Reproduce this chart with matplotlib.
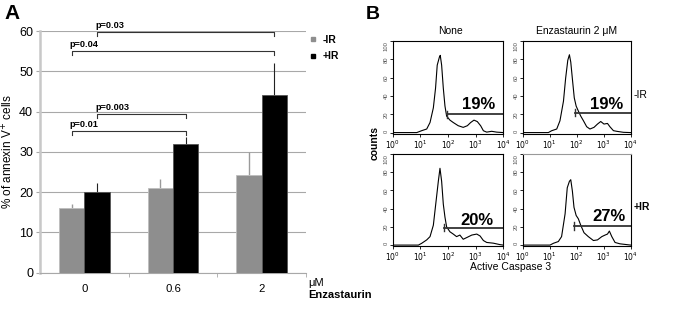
import numpy as np
import matplotlib
matplotlib.use('Agg')
import matplotlib.pyplot as plt
from matplotlib.lines import Line2D
from matplotlib.ticker import FixedLocator, LogLocator, NullFormatter

plt.rcParams['font.family'] = ['Liberation Sans', 'DejaVu Sans']

# ---------------- Panel A data ----------------
doses = ['0', '0.6', '2']
minus_ir = [16.0, 21.0, 24.3]
plus_ir = [20.0, 32.0, 44.0]
minus_ir_err = [1.1, 2.3, 5.7]
plus_ir_err = [2.3, 1.6, 8.0]
series_labels = ['-IR', '+IR']

p_labels = ['p=0.01', 'p=0.003', 'p=0.04', 'p=0.03']
p_heights = [35.1, 39.4, 55.0, 59.7]
p_from = [(0, 0), (0, 1), (0, 0), (0, 1)]   # (group, series)
p_to = [(1, 1), (1, 1), (2, 1), (2, 1)]

# ---------------- Panel B data ----------------
hist_titles = ['None', 'Enzastaurin 2 \u03bcM']
row_labels = ['-IR', '+IR']

tl_logx = [0.0, 0.87, 1.05, 1.23, 1.35, 1.47, 1.55, 1.61, 1.69, 1.72, 1.77, 1.83, 1.89, 1.95, 2.07, 2.19,
           2.37, 2.55, 2.70, 2.82, 2.94, 3.06, 3.18, 3.28, 3.40, 3.58, 3.76, 4.0]
tl_counts = [0, 0, 2.1, 3.9, 11, 27, 48.6, 73.6, 82.5, 84.3, 73.6, 48.6, 29, 18, 13.6, 11,
             7.5, 5.7, 7.5, 11, 13.6, 12, 7.5, 2, 0.5, 1.4, 0.5, 0]

tr_logx = [0.0, 0.95, 1.07, 1.26, 1.38, 1.51, 1.59, 1.67, 1.73, 1.78, 1.85, 1.91, 1.98, 2.06, 2.15, 2.25,
           2.37, 2.49, 2.64, 2.77, 2.89, 3.01, 3.14, 3.23, 3.36, 3.48, 3.73, 4.0]
tr_counts = [0, 0, 2, 3.9, 12.9, 34.3, 59.3, 79, 85, 77, 55.7, 37.9, 28.9, 23.6, 18, 12.9,
             6.4, 3.9, 5.7, 9.3, 12.1, 9.3, 10, 6.4, 2.1, 1.4, 0.3, 0]

bl_logx = [0.0, 0.93, 1.05, 1.23, 1.35, 1.47, 1.57, 1.65, 1.71, 1.77, 1.83, 1.89, 1.95, 2.07, 2.19, 2.31,
           2.43, 2.55, 2.70, 2.86, 3.04, 3.16, 3.28, 3.40, 3.64, 3.88, 4.0]
bl_counts = [0, 0, 2, 5.7, 9.3, 21.8, 48.6, 70, 84.3, 70, 45, 30.7, 20, 14.6, 12.1, 9.3,
             11, 6.4, 8.6, 11, 12.1, 10, 5, 2.9, 2.1, 0.5, 0]

br_logx = [0.0, 1.01, 1.14, 1.32, 1.44, 1.57, 1.65, 1.73, 1.78, 1.84, 1.90, 1.98, 2.06, 2.15, 2.27, 2.43,
           2.62, 2.77, 2.93, 3.05, 3.14, 3.21, 3.30, 3.42, 3.60, 4.0]
br_counts = [0, 0, 2, 3.9, 9.3, 34.3, 62.9, 70, 71.8, 59.3, 41.4, 32.5, 28.9, 21.8, 13.6, 9.3,
             5, 5.7, 9.3, 11, 12.1, 15.4, 9.3, 2.9, 1.4, 0]

gate_start_log = [1.95, 1.95, 1.86, 1.91]
gate_level = [20.0, 21.8, 19.3, 21.0]
gate_labels = ['19%', '19%', '20%', '27%']
gate_label_log = [3.12, 3.11, 3.04, 3.21]
gate_label_y = [25.4, 25.4, 21.8, 26.4]

# ---------------- Figure ----------------
W, H = 700, 309
fig = plt.figure(figsize=(W / 100, H / 100), dpi=100)

def fx(px):
    return px / W

def fy(py):
    return 1 - py / H

gray = '#8e8e8e'
axa = fig.add_axes([fx(40), fy(272.7), fx(306) - fx(40), fy(31) - fy(272.7)])
x = np.arange(len(doses))
bw = 0.287
off = 0.1435
axa.bar(x - off, minus_ir, bw, color=gray, edgecolor='#bdbdbd', linewidth=0.6, zorder=3)
axa.bar(x + off, plus_ir, bw, color='black', edgecolor='#555555', linewidth=0.6, zorder=3)
axa.errorbar(x - off, minus_ir, yerr=[np.zeros(3), minus_ir_err], fmt='none', ecolor='#9a9a9a',
             elinewidth=1.0, capsize=0, zorder=2)
axa.errorbar(x + off, plus_ir, yerr=[np.zeros(3), plus_ir_err], fmt='none', ecolor='#222222',
             elinewidth=0.8, capsize=0, zorder=2)
axa.set_xlim(-0.5, 2.5)
axa.set_ylim(0, 60)
axa.set_yticks(np.arange(0, 61, 10))
axa.yaxis.grid(True, color='#a8a8a8', linewidth=0.8)
axa.set_axisbelow(True)
for s in ['top', 'right']:
    axa.spines[s].set_visible(False)
axa.spines['left'].set_color('#c8c8c8')
axa.spines['left'].set_linewidth(1.8)
axa.spines['bottom'].set_color('#a8a8a8')
axa.spines['bottom'].set_linewidth(0.8)
axa.set_xticks(x)
axa.set_xticklabels(doses, fontsize=8.2)
axa.xaxis.set_minor_locator(FixedLocator([0.5, 1.5, 2.5]))
axa.tick_params(axis='x', which='major', length=0, pad=8)
axa.tick_params(axis='x', which='minor', length=3, color='#a8a8a8')
axa.tick_params(axis='y', length=3, color='#a8a8a8', labelsize=9, pad=2)
axa.set_ylabel('% of annexin V$^{+}$ cells', fontsize=8.5)
axa.yaxis.set_label_coords(-0.092, 0.5)

def bar_x(gs):
    g, s = gs
    return x[g] + (off if s == 1 else -off)

for lab, h, a, b in zip(p_labels, p_heights, p_from, p_to):
    xa, xb = bar_x(a), bar_x(b)
    axa.plot([xa, xa, xb, xb], [h - 0.9, h, h, h - 0.9], color='#333333', lw=0.8, zorder=4,
             clip_on=False)
    axa.text(xa - 0.02, h + 0.6, lab, fontsize=6.6, fontweight='bold', ha='left', va='bottom')

handles = [Line2D([], [], marker='s', ls='', color=gray, markersize=2.8),
           Line2D([], [], marker='s', ls='', color='black', markersize=2.8)]
fig.legend(handles, series_labels, loc='upper left', bbox_to_anchor=(fx(309), fy(35)),
           frameon=False, prop={'weight': 'bold', 'size': 7.5}, handlelength=0.8,
           handletextpad=0.5, labelspacing=0.6, borderaxespad=0, borderpad=0)

fig.text(fx(308), fy(283), '\u03bcM', fontsize=8, ha='left', va='center')
fig.text(fx(308), fy(295), 'Enzastaurin', fontsize=8, fontweight='bold', ha='left', va='center')
fig.text(fx(4), fy(4), 'A', fontsize=15, fontweight='heavy', ha='left', va='top')
fig.text(fx(366), fy(6), 'B', fontsize=14, fontweight='heavy', ha='left', va='top')

# ---------------- Panel B ----------------
boxes = [(392.7, 503.3, 41, 133.5), (522.7, 630.7, 41, 133.5),
         (392.7, 503.3, 154, 246), (522.7, 630.7, 154, 246)]
data = [(tl_logx, tl_counts), (tr_logx, tr_counts), (bl_logx, bl_counts), (br_logx, br_counts)]
hax = []
for i, ((l, r, t, b), (lx, cnt)) in enumerate(zip(boxes, data)):
    ax = fig.add_axes([fx(l), fy(b), fx(r) - fx(l), fy(t) - fy(b)])
    hax.append(ax)
    xs = 10 ** np.array(lx)
    ax.plot(xs, cnt, color='black', lw=0.8)
    ax.set_xscale('log')
    ax.set_xlim(1, 1e4)
    ax.set_ylim(-1, 100)
    ax.set_xticks([1, 10, 100, 1000, 10000])
    ax.set_xticklabels(['$10^{0}$', '$10^{1}$', '$10^{2}$', '$10^{3}$', '$10^{4}$'])
    ax.xaxis.set_minor_locator(LogLocator(base=10, subs=np.arange(2, 10)))
    ax.xaxis.set_minor_formatter(NullFormatter())
    ax.set_yticks([0, 20, 40, 60, 80, 100])
    ax.tick_params(axis='x', which='major', labelsize=5.5, length=2.5, width=0.6, pad=1)
    ax.tick_params(axis='x', which='minor', length=1.5, width=0.5)
    ax.tick_params(axis='y', labelsize=4.2, length=2, width=0.6, pad=1, labelcolor='#555555')
    ylbls = ax.get_yticklabels()
    for lbl in ylbls:
        lbl.set_rotation(90)
        lbl.set_va('center')
    ylbls[-1].set_va('top')
    ylbls[0].set_va('bottom')
    for s in ax.spines.values():
        s.set_linewidth(0.8)
    gs = 10 ** gate_start_log[i]
    ax.plot([gs, 1e4], [gate_level[i], gate_level[i]], color='#333333', lw=1.3)
    ax.plot([gs, gs], [gate_level[i] - 4, gate_level[i] + 4], color='#333333', lw=1.0)
    ax.text(10 ** gate_label_log[i], gate_label_y[i], gate_labels[i], fontsize=12,
            fontweight='bold', ha='center', va='baseline')
hax[3].spines['top'].set_color('#999999')

fig.text(fx(450), fy(31), hist_titles[0], fontsize=7.5, ha='center', va='center')
fig.text(fx(576.7), fy(31), hist_titles[1], fontsize=7.5, ha='center', va='center')
fig.text(fx(634), fy(95), row_labels[0], fontsize=7.5, ha='left', va='center')
fig.text(fx(634), fy(207), row_labels[1], fontsize=7.5, fontweight='bold', ha='left', va='center')
fig.text(fx(375), fy(143), 'counts', fontsize=7.5, fontweight='bold', rotation=90,
         ha='center', va='center')
fig.text(fx(511), fy(267), 'Active Caspase 3', fontsize=7.5, ha='center', va='center')

fig.savefig('out.png', dpi=100)
